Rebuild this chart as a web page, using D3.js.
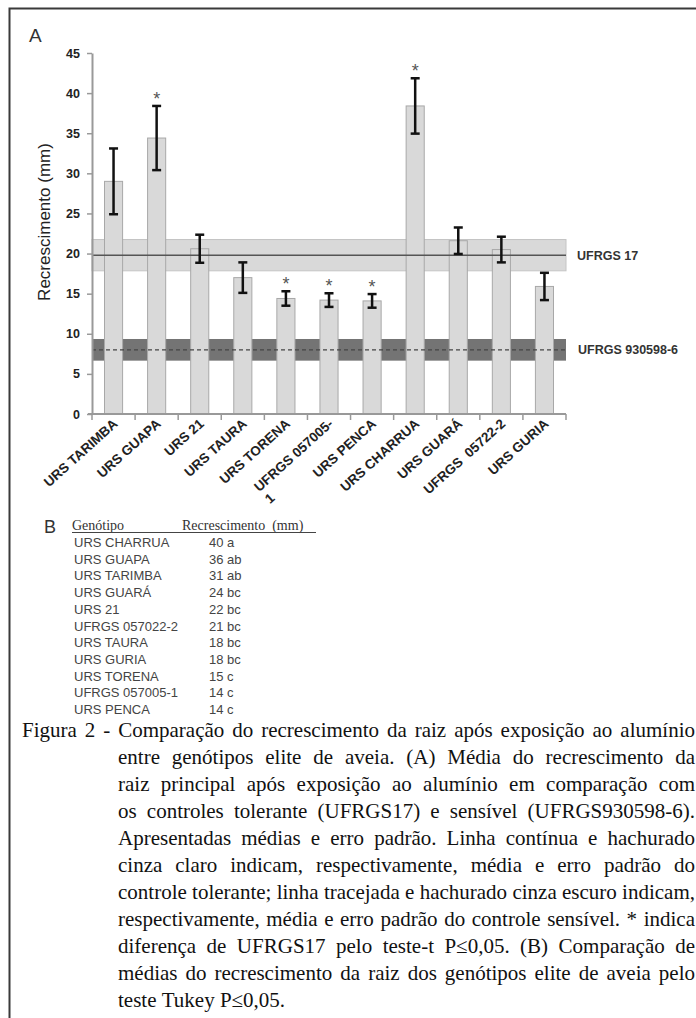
<!DOCTYPE html>
<html>
<head>
<meta charset="utf-8">
<script src="https://cdn.jsdelivr.net/npm/d3@7"></script>
<style>
  body { margin: 0; background: #fff; }
  svg { display: block; }
  text { white-space: pre; }
</style>
</head>
<body>
<svg id="fig" width="696" height="1018"></svg>
<script>
// chart A data
const genotypes = ['URS TARIMBA', 'URS GUAPA', 'URS 21', 'URS TAURA', 'URS TORENA', 'UFRGS 057005-\n1',
  'URS PENCA', 'URS CHARRUA', 'URS GUARÁ', 'UFRGS  05722-2', 'URS GURIA'];
const means = [29.0, 34.4, 20.6, 17.0, 14.4, 14.2, 14.1, 38.4, 21.6, 20.5, 15.9];
const stdErr = [4.1, 4.0, 1.75, 1.9, 0.9, 0.85, 0.85, 3.45, 1.65, 1.6, 1.7];
const signif = [false, true, false, false, true, true, true, true, false, false, false];
const yTicks = [0, 5, 10, 15, 20, 25, 30, 35, 40, 45];

// controls
const tolName = 'UFRGS 17', tolMean = 19.8, tolSe = 1.95;
const sensName = 'UFRGS 930598-6', sensMean = 8.0, sensSe = 1.35;

// table B
const tableGenotypes = ['URS CHARRUA', 'URS GUAPA', 'URS TARIMBA', 'URS GUARÁ', 'URS 21', 'UFRGS 057022-2',
  'URS TAURA', 'URS GURIA', 'URS TORENA', 'UFRGS 057005-1', 'URS PENCA'];
const tableMeans = [40, 36, 31, 24, 22, 21, 18, 18, 15, 14, 14];
const tableGroups = ['a', 'ab', 'ab', 'bc', 'bc', 'bc', 'bc', 'bc', 'c', 'c', 'c'];

const captionLines = [
  'Figura 2 - Comparação do recrescimento da raiz após exposição ao alumínio',
  'entre genótipos elite de aveia. (A) Média do recrescimento da',
  'raiz principal após exposição ao alumínio em comparação com',
  'os controles tolerante (UFRGS17) e sensível (UFRGS930598-6).',
  'Apresentadas médias e erro padrão. Linha contínua e hachurado',
  'cinza claro indicam, respectivamente, média e erro padrão do',
  'controle tolerante; linha tracejada e hachurado cinza escuro indicam,',
  'respectivamente, média e erro padrão do controle sensível. * indica',
  'diferença de UFRGS17 pelo teste-t P≤0,05. (B) Comparação de',
  'médias do recrescimento da raiz dos genótipos elite de aveia pelo',
  'teste Tukey P≤0,05.'
];

const sans = '"Liberation Sans", Arial, sans-serif';
const serif = '"Liberation Serif", "Times New Roman", serif';

const svg = d3.select('#fig');

// frame
svg.append('path')
  .attr('d', 'M9.5,1018 V8.5 H696')
  .attr('fill', 'none')
  .attr('stroke', '#3a3a3a')
  .attr('stroke-width', 2);

const x = d3.scaleBand()
  .domain(genotypes)
  .range([92, 566])
  .paddingInner(0.58)
  .paddingOuter(0.29);

const y = d3.scaleLinear()
  .domain([0, 45])
  .range([414, 53]);

const x0 = x.range()[0], x1 = x.range()[1];

// dark band (sensitive control) behind bars
svg.append('rect')
  .attr('x', x0).attr('width', x1 - x0)
  .attr('y', y(sensMean + sensSe))
  .attr('height', y(sensMean - sensSe) - y(sensMean + sensSe))
  .attr('fill', '#747474');

// light band (tolerant control)
svg.append('rect')
  .attr('x', x0).attr('width', x1 - x0)
  .attr('y', y(tolMean + tolSe))
  .attr('height', y(tolMean - tolSe) - y(tolMean + tolSe))
  .attr('fill', '#d9d9d9')
  .attr('stroke', '#c4c4c4');

// bars
svg.append('g').selectAll('rect')
  .data(genotypes)
  .join('rect')
  .attr('x', d => x(d))
  .attr('width', x.bandwidth())
  .attr('y', (d, i) => y(means[i]))
  .attr('height', (d, i) => y(0) - y(means[i]))
  .attr('fill', '#d9d9d9')
  .attr('stroke', '#a8a8a8')
  .attr('stroke-width', 1);

// control lines
svg.append('line')
  .attr('x1', x0).attr('x2', x1)
  .attr('y1', y(tolMean)).attr('y2', y(tolMean))
  .attr('stroke', '#555').attr('stroke-width', 1.5);
svg.append('line')
  .attr('x1', x0).attr('x2', x1)
  .attr('y1', y(sensMean)).attr('y2', y(sensMean))
  .attr('stroke', '#444').attr('stroke-width', 1.2)
  .attr('stroke-dasharray', '4,3');

svg.append('text')
  .attr('x', 577).attr('y', y(tolMean) + 4.5)
  .attr('font-family', sans).attr('font-weight', 'bold').attr('font-size', 12.5)
  .attr('fill', '#333')
  .text(tolName);
svg.append('text')
  .attr('x', 578).attr('y', y(sensMean) + 4.5)
  .attr('font-family', sans).attr('font-weight', 'bold').attr('font-size', 12.5)
  .attr('fill', '#333')
  .text(sensName);

// error bars
const err = svg.append('g').attr('stroke', '#111').attr('stroke-width', 2.5);
genotypes.forEach((d, i) => {
  const cx = x(d) + x.bandwidth() / 2;
  const top = y(means[i] + stdErr[i]), bot = y(means[i] - stdErr[i]);
  err.append('line').attr('x1', cx).attr('x2', cx).attr('y1', top).attr('y2', bot);
  err.append('line').attr('x1', cx - 4.5).attr('x2', cx + 4.5).attr('y1', top).attr('y2', top);
  err.append('line').attr('x1', cx - 4.5).attr('x2', cx + 4.5).attr('y1', bot).attr('y2', bot);
  if (signif[i]) {
    svg.append('text')
      .attr('x', cx).attr('y', top - 1)
      .attr('text-anchor', 'middle')
      .attr('font-family', sans).attr('font-size', 18)
      .attr('fill', '#555')
      .text('*');
  }
});

// y axis
const yAxis = svg.append('g')
  .attr('transform', `translate(${x0},0)`)
  .call(d3.axisLeft(y).tickValues(yTicks).tickSize(5).tickSizeOuter(0).tickPadding(7));
yAxis.select('.domain').attr('stroke', '#999').attr('stroke-width', 2);
yAxis.selectAll('.tick line').attr('stroke', '#999').attr('stroke-width', 1.5);
yAxis.selectAll('.tick text')
  .attr('font-family', sans).attr('font-weight', 'bold').attr('font-size', 12.5)
  .attr('fill', '#222');

// x axis: baseline with ticks on category boundaries
const xAxis = svg.append('g');
xAxis.append('line')
  .attr('x1', x0 - 4).attr('x2', x1)
  .attr('y1', y(0)).attr('y2', y(0))
  .attr('stroke', '#999').attr('stroke-width', 2);
xAxis.selectAll('.bt')
  .data(d3.range(genotypes.length + 1))
  .join('line')
  .attr('x1', i => x0 + i * x.step()).attr('x2', i => x0 + i * x.step())
  .attr('y1', y(0)).attr('y2', y(0) + 6)
  .attr('stroke', '#999').attr('stroke-width', 1.5);

genotypes.forEach(d => {
  const cx = x(d) + x.bandwidth() / 2;
  const parts = d.split('\n');
  const g = xAxis.append('g')
    .attr('transform', `translate(${cx + 5},${y(0) + 11}) rotate(-42)`);
  const t = g.append('text')
    .attr('text-anchor', 'end')
    .attr('font-family', sans).attr('font-weight', 'bold').attr('font-size', 13.5)
    .attr('fill', '#222')
    .text(parts[0]);
  if (parts.length > 1) {
    const w = t.node().getComputedTextLength();
    g.append('text')
      .attr('x', -w).attr('y', 16)
      .attr('font-family', sans).attr('font-weight', 'bold').attr('font-size', 13.5)
      .attr('fill', '#222')
      .text(parts[1]);
  }
});

// y title
svg.append('text')
  .attr('transform', `translate(50,222) rotate(-90)`)
  .attr('text-anchor', 'middle')
  .attr('font-family', sans).attr('font-size', 17)
  .attr('fill', '#222')
  .text('Recrescimento (mm)');

// panel letters
svg.append('text')
  .attr('x', 29).attr('y', 42)
  .attr('font-family', sans).attr('font-size', 19)
  .attr('fill', '#333')
  .text('A');
svg.append('text')
  .attr('x', 44).attr('y', 533)
  .attr('font-family', sans).attr('font-size', 18)
  .attr('fill', '#333')
  .text('B');

// table B
const tbl = svg.append('g');
tbl.append('text')
  .attr('x', 72).attr('y', 530)
  .attr('font-family', serif).attr('font-size', 14)
  .attr('fill', '#333')
  .text('Genótipo');
tbl.append('text')
  .attr('x', 182).attr('y', 530)
  .attr('font-family', serif).attr('font-size', 14)
  .attr('fill', '#333')
  .text('Recrescimento  (mm)');
tbl.append('line')
  .attr('x1', 72).attr('x2', 316)
  .attr('y1', 532.5).attr('y2', 532.5)
  .attr('stroke', '#444').attr('stroke-width', 1);

tableGenotypes.forEach((g, i) => {
  const yy = 547 + i * 16.7;
  tbl.append('text')
    .attr('x', 74).attr('y', yy)
    .attr('font-family', sans).attr('font-size', 13)
    .attr('fill', '#444')
    .text(g);
  tbl.append('text')
    .attr('x', 209).attr('y', yy)
    .attr('font-family', sans).attr('font-size', 13)
    .attr('fill', '#444')
    .text(tableMeans[i] + ' ' + tableGroups[i]);
});

// caption, justified
const cap = svg.append('g')
  .attr('font-family', serif).attr('font-size', 21).attr('fill', '#111');

function layLine(line, left, right, yy, last) {
  const words = line.split(' ');
  const nodes = words.map(w => cap.append('text').attr('y', yy).text(w));
  const widths = nodes.map(n => n.node().getComputedTextLength());
  const total = d3.sum(widths);
  let gap = last ? 5.25 : (right - left - total) / (words.length - 1);
  let k = 1;
  if (gap < 2.5) {
    gap = 2.5;
    k = (right - left - gap * (words.length - 1)) / total;
  }
  let cx = left;
  nodes.forEach((n, i) => {
    n.attr('x', cx);
    if (k < 1) n.attr('textLength', widths[i] * k).attr('lengthAdjust', 'spacingAndGlyphs');
    cx += widths[i] * k + gap;
  });
}

captionLines.forEach((line, i) => {
  const left = i === 0 ? 22 : 118;
  layLine(line, left, 695, 737 + i * 27, i === captionLines.length - 1);
});
</script>
</body>
</html>
